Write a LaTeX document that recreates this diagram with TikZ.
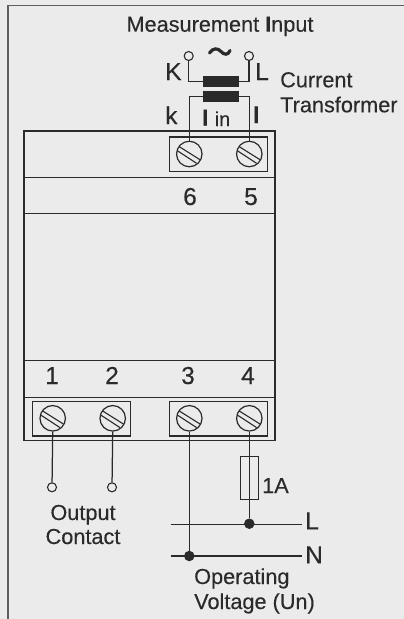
\documentclass[tikz,border=0pt]{standalone}
\usepackage{fontspec}
\setmainfont{Liberation Sans}[RawFeature={embolden=0.25}]
\usetikzlibrary{calc}
\definecolor{bgc}{HTML}{EBEBEB}
\definecolor{ink}{HTML}{2A2A2A}
\tikzset{
  wire/.style={draw=ink,line width=1.25pt},
  boxl/.style={draw=ink,line width=1.3pt},
  lbl/.style={text=ink,font=\fontsize{21.7}{22}\selectfont,inner sep=0pt,anchor=base},
  lbll/.style={lbl,anchor=base west},
  dig/.style={text=ink,font=\fontsize{24.5}{25}\selectfont,inner sep=0pt,anchor=base},
  termc/.style={circle,draw=ink,line width=1.1pt,fill=bgc,minimum size=9pt,inner sep=0pt},
  dotc/.style={circle,fill=ink,minimum size=10.5pt,inner sep=0pt},
  screwc/.style={circle,draw=ink,line width=1.2pt,minimum size=25.5pt,inner sep=0pt},
  corebar/.style={fill=ink,draw=none,minimum width=36pt,minimum height=11pt,inner sep=0pt},
  fusebox/.style={draw=ink,line width=1.2pt,minimum width=17.5pt,minimum height=43pt,inner sep=0pt}
}
\newcommand{\screwat}[2]{%
  \node[screwc] (#1) at (#2) {};
  \draw[ink,line width=1.1pt] ($(#1)+(-10,-7.3)$) -- ($(#1)+(10.7,5.7)$);
  \draw[ink,line width=1.1pt] ($(#1)+(-12,-3.3)$) -- ($(#1)+(7.3,9.3)$);
}
\begin{document}
\begin{tikzpicture}[x=1pt,y=-1pt]
\useasboundingbox (0,0) rectangle (404,619);
\fill[bgc] (0,0) rectangle (404,619);
\draw[color=ink!75,line width=1.6pt] (404,5.6) -- (8.2,5.6) -- (8.2,619);
% housing
\draw[boxl] (24,131) rectangle (275,440.3);
\draw[boxl] (24,177.7) -- (275,177.7);
\draw[boxl] (24,213.5) -- (275,213.5);
\draw[boxl] (24,360.7) -- (275,360.7);
\draw[boxl] (24,397.3) -- (275,397.3);
% terminal blocks
\draw[boxl] (169.3,137) rectangle (267.5,171.7);
\draw[boxl] (32.3,401.7) rectangle (130.7,436);
\draw[boxl] (169.3,401.7) rectangle (267.7,436);
\screwat{s6}{189.3,154}
\screwat{s5}{249.3,154}
\screwat{s1}{52.7,418.3}
\screwat{s2}{112.7,418.3}
\screwat{s3}{189.3,418.3}
\screwat{s4}{249.3,418.3}
% digits
\node[dig] (d6) at (190,205) {6};
\node[dig] (d5) at (251,205) {5};
\node[dig] (d1) at (52,384) {1};
\node[dig] (d2) at (112,384) {2};
\node[dig] (d3) at (188,384) {3};
\node[dig] (d4) at (248,384) {4};
% transformer
\node[corebar] (coreU) at (221,81.8) {};
\node[corebar] (coreL) at (221,96.7) {};
\node[termc] (tK) at (188.7,56) {};
\node[termc] (tL) at (249,56) {};
\draw[wire] (tK) |- (coreU.west);
\draw[wire] (tL) |- (coreU.east);
\draw[wire] (coreL.west) -| (s6.north);
\draw[wire] (coreL.east) -| (s5.north);
\draw[ink,line width=3.2pt,line cap=round] (209.5,53) .. controls (213,47.5) and (218,48) .. (221,51.5) .. controls (224,55) and (228,55.5) .. (230,50.5);
\node[lbl] (title) at (220,31.7) {Measurement {\bfseries I}nput};
\node[dig,anchor=base west] (K) at (165,80) {K};
\node[dig,anchor=base west] (Lc) at (255,80) {L};
\node[dig,anchor=base west] (kk) at (165,124) {k};
\node[lbll] (cur) at (280,87.3) {Current};
\node[lbll] (tra) at (280,112.3) {Transformer};
\node[text=ink,font=\fontsize{23}{24}\selectfont\bfseries,inner sep=0pt,anchor=base] (Iin) at (205.3,125.5) {I};
\node[text=ink,font=\fontsize{20}{20}\selectfont,inner sep=0pt,anchor=base west] (in) at (214.5,126) {in};
\node[text=ink,font=\fontsize{23}{24}\selectfont\bfseries,inner sep=0pt,anchor=base] (ll) at (256.3,123) {l};
% output contact
\node[termc] (o1) at (52,487.3) {};
\node[termc] (o2) at (112,487.3) {};
\draw[wire] (s1.south) -- (o1);
\draw[wire] (s2.south) -- (o2);
\node[lbl] (out) at (83,520) {Output};
\node[lbl] (con) at (83,544) {Contact};
% supply
\coordinate (Lw) at (170.7,524.7);
\coordinate (Le) at (301.7,524.7);
\coordinate (Nw) at (170.7,556);
\coordinate (Ne) at (301.7,556);
\draw[wire] (Lw) -- (Le);
\draw[wire] (Nw) -- (Ne);
\node[dotc] (dL) at (249.3,523.7) {};
\node[dotc] (dN) at (189.3,556) {};
\node[fusebox] (fuse) at (249.5,477.7) {};
\draw[wire] (s4.south) -- (dL);
\draw[wire] (s3.south) -- (dN);
\node[lbll] (a1) at (262,493) {1A};
\node[dig,anchor=base west] (Ltxt) at (305,529.3) {L};
\node[dig,anchor=base west] (Ntxt) at (305,563.3) {N};
\node[lbll] (op) at (194,584) {Operating};
\node[lbll] (vo) at (194,609) {Voltage (Un)};
\end{tikzpicture}
\end{document}
